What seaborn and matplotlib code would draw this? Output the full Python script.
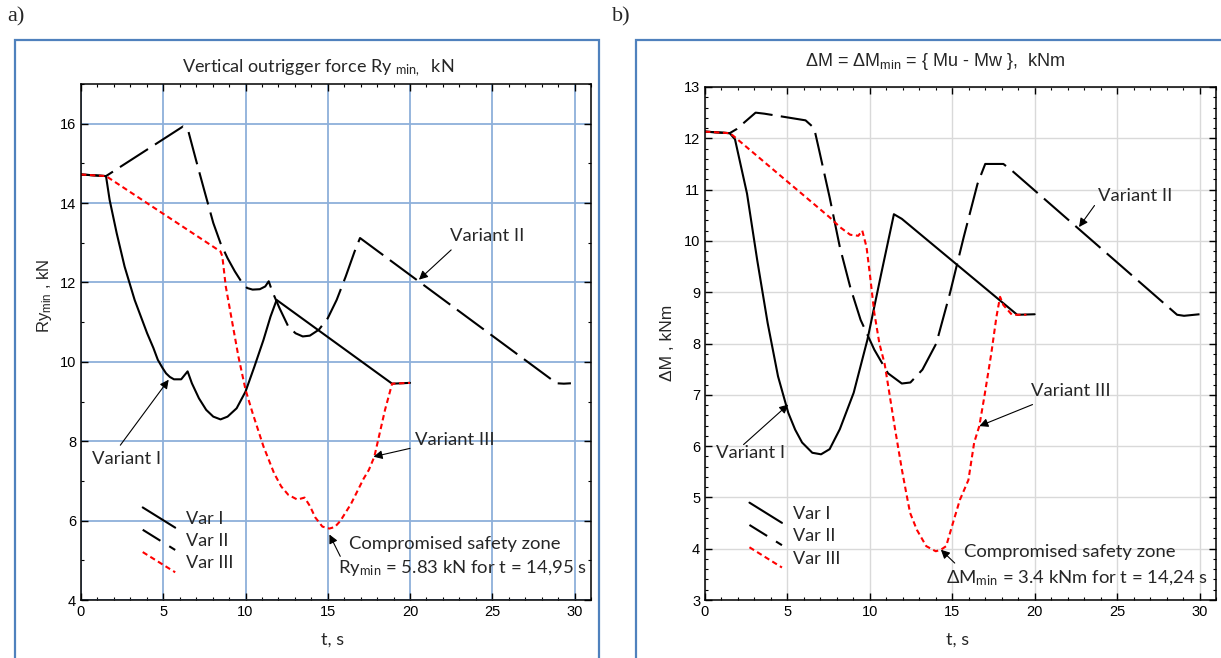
import numpy as np
import pandas as pd
import seaborn as sns
import matplotlib.pyplot as plt
from matplotlib.lines import Line2D
from matplotlib.patches import Rectangle
from matplotlib.ticker import MultipleLocator
from matplotlib.legend_handler import HandlerLine2D

# ---- a) vertical outrigger force Ry_min, kN ----
t_ry_1 = [0, 1.52, 1.74, 2.17, 2.65, 3.26, 4.02, 4.4, 4.67, 4.95, 5.17, 5.4, 5.65, 6.09, 6.48, 6.74,
          7.17, 7.61, 8.04, 8.48, 8.91, 9.46, 10.0, 10.54, 11.09, 11.52, 11.89, 18.91, 20.0]
ry_1 = [14.72, 14.68, 14.08, 13.24, 12.40, 11.56, 10.72, 10.35, 10.05, 9.85, 9.71, 9.62, 9.56, 9.56,
        9.76, 9.46, 9.08, 8.79, 8.62, 8.55, 8.62, 8.83, 9.25, 9.88, 10.55, 11.14, 11.56, 9.45, 9.47]

t_ry_2 = [0, 1.52, 6.2, 6.5, 7.0, 7.5, 8.04, 8.48, 8.91, 9.35, 9.78, 10.1, 10.43, 10.87, 11.2,
          11.41, 11.63, 12.07, 12.6, 13.04, 13.48, 13.91, 14.46, 15.0, 15.54, 16.09, 16.63,
          16.96, 28.91, 29.35, 29.78]
ry_2 = [14.72, 14.68, 15.93, 15.85, 15.07, 14.31, 13.5, 12.99, 12.61, 12.28, 12.0, 11.86, 11.82,
        11.83, 11.9, 12.03, 11.77, 11.35, 10.89, 10.72, 10.64, 10.66, 10.81, 11.1, 11.56, 12.15,
        12.78, 13.12, 9.46, 9.45, 9.46]

t_ry_3 = [0, 1.52, 8.48, 8.59, 8.8, 9.13, 9.57, 10.0, 10.43, 11.09, 11.74, 12.17, 12.6, 13.15,
          13.59, 13.91, 14.24, 14.67, 15.1, 15.43, 15.76, 16.41, 17.17, 17.5, 17.83, 18.48,
          18.91, 20.0]
ry_3 = [14.72, 14.68, 12.78, 12.66, 11.9, 11.14, 10.13, 9.3, 8.71, 7.87, 7.19, 6.86, 6.65, 6.53,
        6.58, 6.37, 6.08, 5.85, 5.8, 5.84, 5.99, 6.42, 7.05, 7.28, 7.61, 8.79, 9.45, 9.47]

# ---- b) dM = dM_min = {Mu - Mw}, kNm ----
t_dm_1 = [0, 1.5, 1.82, 2.55, 3.17, 3.8, 4.43, 5.05, 5.47, 5.89, 6.51, 7.04, 7.56, 8.18, 9.02,
          9.85, 10.69, 11.46, 11.94, 18.94, 20.0]
dm_1 = [12.13, 12.1, 11.98, 10.92, 9.62, 8.4, 7.36, 6.65, 6.32, 6.07, 5.87, 5.84, 5.94, 6.33,
        7.04, 8.07, 9.36, 10.52, 10.43, 8.56, 8.57]

t_dm_2 = [0, 1.5, 1.92, 3.07, 3.6, 6.1, 6.62, 6.93, 7.56, 8.18, 8.81, 9.44, 10.27, 11.1, 11.94,
          12.46, 13.19, 14.03, 14.86, 15.7, 16.53, 17.0, 18.1, 18.62, 28.64, 29.06, 30.0]
dm_2 = [12.13, 12.1, 12.18, 12.5, 12.48, 12.35, 12.2, 11.76, 10.85, 9.88, 9.1, 8.46, 7.88, 7.42,
        7.22, 7.24, 7.49, 8.0, 8.98, 10.08, 11.11, 11.5, 11.5, 11.37, 8.56, 8.54, 8.57]

t_dm_3 = [0, 1.5, 1.71, 7.56, 8.18, 8.81, 9.3, 9.54, 9.8, 10.02, 10.27, 10.58, 10.9, 11.2, 11.52,
          11.94, 12.2, 12.44, 12.85, 13.42, 14.0, 14.31, 14.63, 15.04, 15.46, 15.98, 16.33,
          16.64, 16.95, 17.37, 17.68, 17.9, 18.1, 18.62, 19.5]
dm_3 = [12.13, 12.1, 12.05, 10.46, 10.27, 10.12, 10.1, 10.2, 9.88, 9.3, 8.6, 8.0, 7.6, 7.0, 6.35,
        5.55, 5.1, 4.7, 4.37, 4.05, 3.95, 3.98, 4.05, 4.5, 4.95, 5.34, 6.07, 6.39, 6.97, 7.81,
        8.52, 8.91, 8.75, 8.56, 8.56]

legend_labels = ["Var I", "Var II", "Var III"]

W, H = 1221, 658
TXT = ["Lato", "DejaVu Sans"]
ARIAL = ["Liberation Sans", "DejaVu Sans"]
FRAME = "#4F81BD"

sns.set_style("white")
plt.rcParams["font.family"] = ARIAL
plt.rcParams["mathtext.default"] = "regular"


class HandlerSlant(HandlerLine2D):
    # legend sample drawn as a short slanted line, like in the original figure
    def create_artists(self, legend, orig_handle, xdescent, ydescent, width, height, fontsize, trans):
        yc = height / 2 - ydescent
        ln = Line2D([-xdescent, width - xdescent], [yc + 0.8 * height, yc - 0.8 * height])
        self.update_prop(ln, orig_handle, legend)
        ln.set_transform(trans)
        return [ln]


def box(x0, y0, x1, y1):
    # pixel box -> figure fraction [left, bottom, width, height]
    return [x0 / W, 1 - y1 / H, (x1 - x0) / W, (y1 - y0) / H]


styles = [dict(color="black", lw=1.5, ls="-"),
          dict(color="black", lw=1.5, ls=(0, (16, 4))),
          dict(color="#FF0000", lw=1.5, ls=(0, (2.6, 1.7)))]
leg_styles = [dict(color="black", lw=1.5, ls="-"),
              dict(color="black", lw=1.5, ls=(0, (10, 5))),
              dict(color="#FF0000", lw=1.5, ls=(0, (2.6, 1.7)))]


def draw_panel(ax, series, grid_color, grid_lw, ymin_minor):
    for (t, v), st in zip(series, styles):
        sns.lineplot(x=t, y=v, ax=ax, sort=False, estimator=None, **st)
    ax.set_xlim(0, 31)
    ax.xaxis.set_major_locator(MultipleLocator(5))
    ax.xaxis.set_minor_locator(MultipleLocator(1))
    ax.yaxis.set_minor_locator(MultipleLocator(ymin_minor))
    ax.grid(True, which="major", color=grid_color, lw=grid_lw)
    ax.set_axisbelow(True)
    ax.tick_params(which="both", direction="in", top=True, right=True, bottom=True, left=True,
                   colors="black", labelsize=10.5)
    ax.tick_params(which="major", length=5, width=1)
    ax.tick_params(which="minor", length=2.5, width=0.8)
    for s in ax.spines.values():
        s.set_color("black")
        s.set_linewidth(1.1)
    ax.set_xlabel("")
    ax.set_ylabel("")
    return [Line2D([], [], **st) for st in leg_styles]


def note(ax, text, pos, size=13.3):
    ax.text(pos[0], pos[1], text, ha="left", va="center", fontsize=size, family=TXT)


def arrow(ax, tail, head):
    ax.annotate("", xy=head, xytext=tail,
                arrowprops=dict(arrowstyle="-|>", color="black", lw=0.8,
                                shrinkA=0, shrinkB=0, mutation_scale=13))


fig = plt.figure(figsize=(W / 100, H / 100), dpi=100)

# outer frames
fig.add_artist(Rectangle((15 / W, -0.1), 584 / W, 1.1 - 40 / H, transform=fig.transFigure,
                         fill=False, ec=FRAME, lw=1.6))
fig.add_artist(Rectangle((636 / W, -0.1), 0.6, 1.1 - 40 / H, transform=fig.transFigure,
                         fill=False, ec=FRAME, lw=1.6))

ax1 = fig.add_axes(box(81, 84, 591, 600))
ax2 = fig.add_axes(box(705, 87, 1216, 600))

# ---- panel a ----
h1 = draw_panel(ax1, [(t_ry_1, ry_1), (t_ry_2, ry_2), (t_ry_3, ry_3)], "#8EB0DA", 1.3, 1)
ax1.set_ylim(4, 17)
ax1.set_yticks(np.arange(4, 17, 2))
ax1.legend(h1, legend_labels, loc="center left", bbox_to_anchor=(0.121, 0.114),
           frameon=False, borderpad=0, borderaxespad=0, handlelength=1.8,
           handletextpad=0.6, labelspacing=0.35, prop=dict(family=TXT, size=13),
           handler_map={Line2D: HandlerSlant()})

note(ax1, "Variant I", (0.65, 7.55))
arrow(ax1, (2.39, 7.9), (5.33, 9.55))
note(ax1, "Variant II", (22.4, 13.18))
arrow(ax1, (22.5, 12.82), (20.54, 12.07))
note(ax1, "Variant III", (20.3, 8.02))
arrow(ax1, (20.0, 7.82), (17.78, 7.61))
note(ax1, "Compromised safety zone", (16.26, 5.4))
note(ax1, "Ry$_{min}$ = 5.83 kN for t = 14,95 s", (15.6, 4.8))
arrow(ax1, (15.76, 5.1), (15.1, 5.65))

# ---- panel b ----
h2 = draw_panel(ax2, [(t_dm_1, dm_1), (t_dm_2, dm_2), (t_dm_3, dm_3)], "#D9D9D9", 1.0, 0.2)
ax2.set_ylim(3, 13)
ax2.set_yticks(np.arange(3, 14, 1))
ax2.legend(h2, legend_labels, loc="center left", bbox_to_anchor=(0.087, 0.124),
           frameon=False, borderpad=0, borderaxespad=0, handlelength=1.8,
           handletextpad=0.6, labelspacing=0.35, prop=dict(family=TXT, size=13),
           handler_map={Line2D: HandlerSlant()})

note(ax2, "Variant I", (0.67, 5.87))
arrow(ax2, (2.34, 6.03), (5.05, 6.81))
note(ax2, "Variant II", (23.84, 10.88))
arrow(ax2, (23.63, 10.69), (22.69, 10.27))
note(ax2, "Variant III", (19.77, 7.07))
arrow(ax2, (19.87, 6.81), (16.64, 6.39))
note(ax2, "Compromised safety zone", (15.74, 3.93))
note(ax2, "\u0394M$_{min}$ = 3.4 kNm for t = 14,24 s", (14.6, 3.43))
arrow(ax2, (15.15, 3.72), (14.31, 3.98))

# titles, axis labels, panel letters
fig.text(318 / W, 1 - 68 / H, "Vertical outrigger force Ry $_{min,}$  kN", ha="center", va="center",
         fontsize=13, family=TXT)
fig.text(935 / W, 1 - 61 / H, "\u0394M = \u0394M$_{min}$ = { Mu - Mw },  kNm", ha="center",
         va="center", fontsize=13, family=ARIAL)
fig.text(45 / W, 1 - 296 / H, "Ry$_{min}$ , kN", rotation=90, ha="center", va="center",
         fontsize=12, family=ARIAL)
fig.text(667 / W, 1 - 343 / H, "\u0394M , kNm", rotation=90, ha="center", va="center",
         fontsize=12.5, family=ARIAL)
fig.text(333 / W, 1 - 640 / H, "t, s", ha="center", va="center", fontsize=13, family=TXT)
fig.text(958 / W, 1 - 640 / H, "t, s", ha="center", va="center", fontsize=13, family=TXT)
fig.text(7 / W, 1 - 17 / H, "a)", ha="left", va="center", fontsize=16, family="Liberation Serif")
fig.text(612 / W, 1 - 17 / H, "b)", ha="left", va="center", fontsize=16, family="Liberation Serif")

fig.savefig("out.png", dpi=100)
